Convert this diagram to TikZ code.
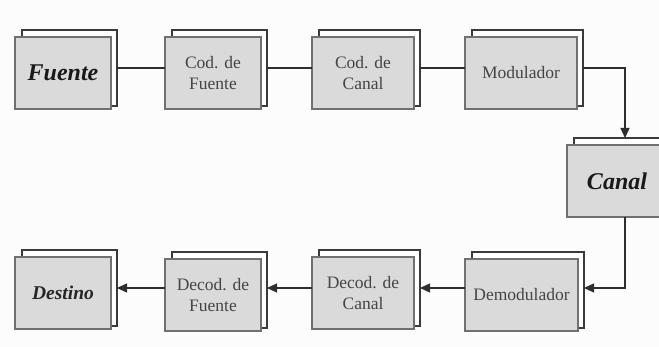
\documentclass[tikz,border=0pt]{standalone}
\usepackage{fontspec}
\setmainfont{Liberation Serif}
\usetikzlibrary{arrows.meta,calc}
\definecolor{bg}{HTML}{FCFCFC}
\definecolor{boxfill}{HTML}{DADADA}
\definecolor{boxline}{HTML}{707070}
\definecolor{backline}{HTML}{3A3A3A}
\definecolor{lbl}{HTML}{454545}
\definecolor{wire}{HTML}{2E2E2E}
\tikzset{
  frontbox/.style={draw=boxline, fill=boxfill, line width=1.1pt, inner sep=0pt, outer sep=0pt, align=center},
  backbox/.style={draw=backline, fill=white, line width=1.1pt, inner sep=0pt, outer sep=0pt},
  plainlbl/.style={text=lbl, font=\fontsize{17.5}{21}\selectfont},
  biglbl/.style={text=black!90, font=\fontsize{24}{28}\selectfont\bfseries\itshape},
  midlbl/.style={text=black!85, font=\fontsize{19.5}{23}\selectfont\bfseries\itshape},
  wireline/.style={draw=wire, line width=1.3pt},
  arr/.style={wireline, -{Triangle[length=10pt,width=9pt]}}
}
% \dbox{name}{x1}{y1}{x2}{y2}{style}{text}
\newcommand{\dbox}[7]{%
  \node[backbox, minimum width=#4-#2-1pt, minimum height=#5-#3+4pt]
    (#1-b) at ({(#2+#4)/2+6.5},{(#3+#5)/2-5}) {};
  \node[frontbox, #6, minimum width=#4-#2, minimum height=#5-#3]
    (#1) at ({(#2+#4)/2},{(#3+#5)/2}) {#7};
}
\begin{document}
\begin{tikzpicture}[x=1pt,y=-1pt]
\clip (0,0) rectangle (659,347);
\fill[bg] (0,0) rectangle (659,347);
% top row
\dbox{fue}{15}{37}{111}{109}{biglbl}{Fuente}
\dbox{cf}{165}{37}{261}{109}{plainlbl}{Cod. de\\Fuente}
\dbox{cc}{312}{37}{414}{109}{plainlbl}{Cod. de\\Canal}
\dbox{mod}{465}{37}{577}{109}{plainlbl}{Modulador}
% canal
\dbox{can}{567}{145}{667}{217}{biglbl}{\hspace*{-1pt}Canal\hspace*{-1pt}}
% bottom row
\dbox{des}{15}{257}{111}{329}{midlbl}{Destino}
\dbox{df}{165}{259}{261}{331}{plainlbl}{Decod. de\\Fuente}
\dbox{dc}{312}{257}{414}{329}{plainlbl}{Decod. de\\Canal}
\dbox{dem}{465}{259}{578}{331}{plainlbl}{\raisebox{-4pt}{Demodulador}}
% connectors top row
\draw[wireline] (fue-b.east) -- (fue-b.east -| cf.west);
\draw[wireline] (cf-b.east) -- (cf-b.east -| cc.west);
\draw[wireline] (cc-b.east) -- (cc-b.east -| mod.west);
\coordinate (k1) at (625,68);
\draw[arr] (mod-b.east |- k1) -- (k1) -- (k1 |- can-b.north);
% down from canal
\coordinate (k2) at (625,288);
\draw[arr] (can.south -| k2) -- (k2) -- (k2 -| dem-b.east);
% bottom row arrows
\draw[arr] (dem.west |- k2) -- (k2 -| dc-b.east);
\draw[arr] (dc.west |- k2) -- (k2 -| df-b.east);
\draw[arr] (df.west |- k2) -- (k2 -| des-b.east);
\end{tikzpicture}
\end{document}
